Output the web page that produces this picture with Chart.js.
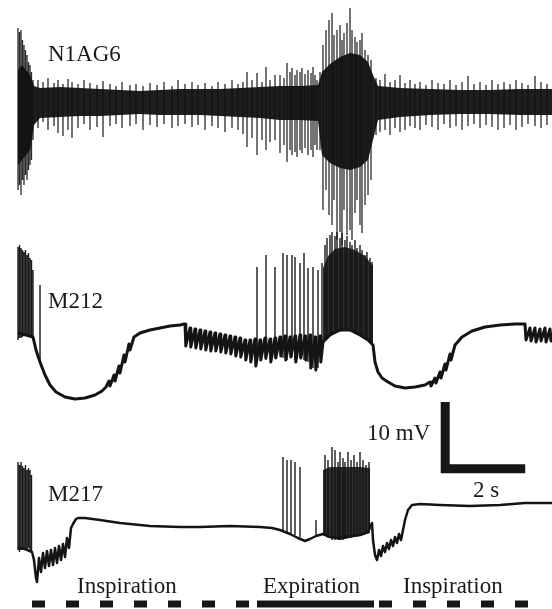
<!DOCTYPE html>
<html><head><meta charset="utf-8">
<script src="https://cdn.jsdelivr.net/npm/chart.js@4.4.1/dist/chart.umd.min.js"></script>
<style>html,body{margin:0;padding:0;background:#fff;}#wrap{position:relative;width:552px;height:609px;}</style>
</head><body><div id="wrap"><canvas id="c"></canvas></div>
<script>
// ---------------- DATA (time in s, potentials in mV; N1AG6 in relative units) ----------------
const traceNames = ['N1AG6', 'M212', 'M217'];

// N1AG6 nerve recording: envelope of the dense activity band
const n1Time  = [0, 0.1, 0.3, 0.4, 0.55, 1.05, 1.55, 2.05, 2.55, 3.05, 3.55, 4.05, 4.55, 5.05, 5.55, 6.05, 6.55, 7.05, 7.5, 7.6, 7.8, 8.05, 8.3, 8.55, 8.75, 8.875, 9.0, 9.55, 10.3, 11.05, 11.8, 12.55, 13.35];
const n1Upper = [4.8, 5.55, 4.05, 2.4, 2.1, 2.25, 2.1, 1.95, 1.8, 1.65, 1.8, 1.95, 1.95, 1.95, 2.1, 2.25, 2.4, 2.4, 2.55, 4.5, 5.7, 6.75, 7.35, 7.05, 6.0, 4.05, 2.4, 2.1, 1.95, 1.8, 1.8, 1.95, 1.95];
const n1Lower = [-9.45, -8.7, -7.2, -3.45, -2.4, -2.25, -2.1, -2.1, -1.95, -1.8, -1.95, -1.95, -1.95, -2.1, -2.25, -2.4, -2.7, -2.7, -2.85, -7.95, -9.15, -9.9, -10.2, -9.75, -8.7, -5.7, -2.7, -2.25, -1.95, -1.8, -1.8, -1.95, -1.95];
// N1AG6 individual spikes
const n1SpikeT  = [0, 0.0375, 0.075, 0.1125, 0.15, 0.1875, 0.225, 0.2625, 0.3, 0.3375, 0.375,
  0.5, 0.625, 0.75, 0.9, 1.0, 1.125, 1.25, 1.35, 1.5, 1.65, 1.8, 1.975, 2.125, 2.3, 2.45, 2.6, 2.8, 2.95, 3.125, 3.3, 3.475, 3.65, 3.85, 4.0, 4.175, 4.35, 4.5, 4.675, 4.85, 5.0, 5.175, 5.35, 5.5, 5.625,
  5.725, 5.85, 5.975, 6.1, 6.2, 6.3, 6.425, 6.55, 6.65, 6.725, 6.8, 6.85, 6.925, 6.975, 7.05, 7.1, 7.175, 7.25, 7.325, 7.375, 7.425, 7.475, 7.55,
  7.625, 7.7, 7.775, 7.85, 7.9, 7.975, 8.05, 8.1, 8.15, 8.225, 8.3, 8.35, 8.425, 8.475, 8.55, 8.6, 8.675, 8.75, 8.825,
  8.95, 9.05, 9.175, 9.3, 9.425, 9.55, 9.675, 9.8, 9.925, 10.05, 10.2, 10.35, 10.5, 10.65, 10.8, 10.95, 11.1, 11.25, 11.4, 11.55, 11.7, 11.85, 12.0, 12.15, 12.3, 12.45, 12.6, 12.75, 12.925, 13.075, 13.225];
const n1SpikeHi = [11.1, 10.5, 10.8, 9.3, 8.55, 7.8, 7.05, 6.0, 5.55, 4.5, 3.3,
  3.3, 3.0, 3.6, 2.85, 3.3, 2.7, 3.45, 3.0, 2.7, 3.3, 2.85, 2.55, 3.15, 2.7, 2.4, 3.0, 2.55, 2.7, 2.4, 2.85, 2.55, 3.0, 2.4, 3.3, 2.7, 3.0, 2.55, 2.85, 2.4, 3.0, 2.7, 3.3, 2.7, 3.0,
  4.5, 3.3, 4.35, 3.0, 5.25, 3.3, 4.05, 4.05, 3.6, 5.85, 4.5, 5.1, 4.05, 4.8, 4.5, 5.1, 4.2, 4.8, 4.35, 5.25, 4.05, 3.3, 4.5,
  8.55, 10.8, 12.3, 13.35, 10.05, 10.8, 11.55, 9.3, 10.35, 11.85, 14.1, 10.8, 9.75, 9.0, 9.3, 10.35, 7.8, 7.05, 6.3,
  3.6, 3.3, 4.2, 3.0, 3.3, 4.05, 2.85, 3.3, 2.7, 3.0, 2.55, 3.3, 2.85, 2.7, 3.3, 2.55, 3.0, 3.9, 2.7, 3.0, 2.55, 3.3, 2.7, 3.0, 2.7, 3.3, 2.85, 2.55, 3.9, 3.0, 2.7];
const n1SpikeLo = [-13.2, -12.45, -13.95, -11.7, -12.45, -10.95, -11.7, -10.2, -9.45, -8.7, -5.7,
  -3.9, -3.0, -4.2, -3.6, -4.65, -5.1, -4.2, -5.4, -3.9, -3.3, -4.2, -3.75, -5.25, -3.6, -3.3, -3.9, -3.6, -3.3, -4.2, -3.45, -3.75, -3.3, -3.9, -3.6, -3.3, -3.75, -3.45, -4.2, -3.6, -3.9, -4.5, -3.9, -4.2, -4.8,
  -6.75, -5.4, -7.95, -5.7, -7.2, -6.0, -5.7, -7.65, -6.45, -9.0, -7.2, -7.95, -7.5, -8.25, -7.2, -7.65, -6.9, -7.95, -7.2, -8.25, -6.45, -7.2, -7.2,
  -16.2, -13.2, -16.95, -18.45, -14.7, -20.7, -19.5, -21.45, -16.2, -19.95, -19.2, -20.7, -16.65, -14.7, -18.45, -19.65, -15.45, -13.95, -11.7,
  -4.95, -4.5, -4.2, -4.95, -3.9, -4.5, -4.2, -3.6, -3.9, -4.2, -3.45, -3.75, -4.2, -3.3, -3.9, -3.6, -4.2, -3.6, -3.3, -3.9, -3.45, -3.75, -4.2, -3.9, -3.45, -4.2, -3.75, -3.3, -3.6, -3.9, -3.45];

// M212 membrane potential (mV)
const m212Time = [0, 0.2, 0.375, 0.45, 0.55, 0.675, 0.8, 0.95, 1.175, 1.425, 1.675, 1.925, 2.1, 2.2,
  2.275, 2.3, 2.4, 2.425, 2.525, 2.55, 2.65, 2.675, 2.775, 2.8, 2.9, 3.05, 3.3, 3.55, 3.8, 4.05, 4.15,
  4.175, 4.195, 4.3, 4.32, 4.425, 4.445, 4.55, 4.57, 4.675, 4.695, 4.8, 4.82, 4.925, 4.945, 5.05, 5.07, 5.175, 5.195, 5.3, 5.32, 5.425, 5.445,
  5.55, 5.57, 5.675, 5.695, 5.8, 5.82, 5.925, 5.945, 6.05, 6.07, 6.175, 6.195, 6.3, 6.32, 6.425, 6.445, 6.55, 6.57, 6.675, 6.695,
  6.8, 6.82, 6.925, 6.945, 7.05, 7.07, 7.175, 7.195, 7.3, 7.32, 7.425, 7.445, 7.55, 7.57,
  7.625, 7.8, 8.05, 8.3, 8.55, 8.75, 8.875,
  8.925, 9.0, 9.1, 9.25, 9.425, 9.675, 9.925, 10.175, 10.3, 10.325, 10.425, 10.45, 10.55, 10.575, 10.675, 10.7, 10.8, 10.825,
  10.925, 11.1, 11.35, 11.675, 12.05, 12.425, 12.65, 12.675, 12.7, 12.8, 12.825, 12.925, 12.95, 13.05, 13.075, 13.175, 13.2, 13.3, 13.325, 13.35];
const m212Vm = [-56.2, -56.5, -56.8, -58.75, -60.55, -62.5, -64.0, -65.05, -65.8, -66.1, -65.95, -65.5, -64.9, -64.3,
  -63.4, -64.15, -62.5, -63.4, -61.15, -62.2, -59.5, -60.55, -57.85, -58.75, -56.8, -56.2, -55.75, -55.45, -55.15, -55.0, -54.85,
  -54.85, -58.15, -55.45, -58.3, -55.6, -58.45, -55.75, -58.6, -55.9, -58.75, -56.05, -58.9, -56.2, -58.9, -56.35, -59.05, -56.5, -59.2, -56.65, -59.35, -56.8, -59.65,
  -56.95, -59.8, -57.25, -60.25, -57.25, -60.55, -57.1, -61.15, -57.25, -60.25, -56.95, -59.95, -57.1, -60.55, -56.95, -59.95, -56.8, -59.65, -56.65, -60.25,
  -56.8, -59.8, -56.65, -60.55, -56.5, -59.95, -56.65, -60.25, -56.5, -61.45, -56.8, -61.75, -56.65, -60.55,
  -57.55, -56.5, -55.75, -55.75, -56.5, -57.25, -58.0,
  -60.55, -62.05, -62.95, -63.55, -64.15, -64.45, -64.3, -64.0, -63.55, -64.15, -62.95, -63.7, -62.05, -62.95, -60.85, -61.75, -59.35, -60.25,
  -58.0, -56.8, -55.9, -55.3, -55.0, -54.85, -54.85, -54.85, -57.25, -55.45, -57.4, -55.45, -57.55, -55.6, -57.4, -55.45, -57.55, -55.6, -57.4, -56.2];
// M212 burst envelope
const m212BurstT  = [7.625, 7.75, 7.925, 8.175, 8.425, 8.675, 8.875];
const m212BurstHi = [-46.45, -44.65, -43.6, -43.3, -43.75, -44.65, -46.15];
const m212BurstLo = [-57.55, -56.8, -56.2, -55.75, -56.05, -56.95, -58.0];
// M212 action potentials
const m212SpikeT  = [0, 0.0375, 0.075, 0.1125, 0.15, 0.1875, 0.225, 0.2625, 0.3, 0.3375, 0.375, 0.55,
  5.975, 6.2, 6.425, 6.625, 6.725, 6.85, 6.925, 7.05, 7.15, 7.25, 7.375, 7.5, 7.6,
  7.675, 7.725, 7.8, 7.85, 7.925, 7.975, 8.05, 8.1, 8.175, 8.225, 8.3, 8.35, 8.425, 8.475, 8.55, 8.6, 8.675, 8.725, 8.8, 8.85];
const m212SpikeHi = [-43.3, -43.0, -43.45, -43.75, -44.05, -43.75, -44.5, -44.2, -44.95, -45.25, -46.75, -49.0,
  -46.3, -44.5, -46.3, -44.2, -44.5, -44.5, -44.8, -45.7, -44.2, -46.45, -46.3, -46.75, -45.7,
  -43.0, -41.95, -41.5, -41.05, -41.65, -41.05, -41.95, -41.2, -42.25, -41.65, -42.55, -43.0, -42.25, -43.45, -43.0, -43.75, -44.5, -44.05, -44.95, -45.55];
const m212SpikeLo = [-57.25, -56.95, -56.95, -56.8, -56.65, -56.65, -56.65, -56.65, -56.8, -56.95, -57.25, -60.55,
  -60.55, -60.25, -59.95, -59.95, -60.25, -59.8, -60.25, -59.95, -60.25, -60.55, -61.45, -61.45, -58.75,
  -57.25, -56.95, -56.65, -56.5, -56.2, -56.05, -55.9, -55.75, -55.75, -55.75, -55.9, -56.05, -56.2, -56.35, -56.5, -56.8, -56.95, -57.25, -57.55, -57.85];

// M217 membrane potential (mV)
const m217Time = [0, 0.175, 0.35, 0.4, 0.45, 0.475, 0.525, 0.575, 0.625, 0.675, 0.725, 0.775, 0.825, 0.875, 0.925, 0.975, 1.025, 1.075, 1.125, 1.175, 1.225, 1.275, 1.325, 1.375, 1.45, 1.5,
  1.675, 2.05, 2.55, 3.3, 4.05, 4.55, 5.3, 6.05, 6.35, 6.55, 6.8, 7.0, 7.175, 7.3, 7.45, 7.625, 7.8, 8.05, 8.3, 8.55, 8.75, 8.85,
  8.875, 8.925, 8.975, 9.025, 9.075, 9.125, 9.175, 9.225, 9.275, 9.325, 9.375, 9.425, 9.475, 9.525, 9.575, 9.625, 9.675, 9.75, 9.85,
  10.05, 10.55, 11.3, 12.05, 12.675, 13.35];
const m217Vm = [-63.15, -63.3, -63.75, -64.95, -67.65, -68.25, -64.65, -66.75, -63.9, -66.15, -63.6, -65.85, -63.45, -65.7, -63.15, -65.4, -62.85, -64.95, -62.55, -64.5, -61.65, -63.15, -60.15, -59.55, -58.8, -58.65,
  -58.65, -58.95, -59.4, -59.85, -60.0, -60.0, -59.85, -60.0, -60.15, -60.45, -61.05, -61.65, -62.1, -61.8, -61.35, -61.05, -61.5, -61.65, -61.35, -61.2, -60.75, -59.4,
  -61.95, -64.2, -64.95, -63.45, -64.35, -62.85, -63.75, -62.4, -63.3, -61.95, -62.85, -61.5, -62.4, -61.05, -61.95, -60.45, -58.95, -57.45, -56.7,
  -56.55, -56.7, -56.85, -56.7, -56.4, -56.4];
// M217 burst envelope
const m217BurstT  = [7.625, 7.8, 8.05, 8.3, 8.55, 8.8];
const m217BurstHi = [-51.45, -51.0, -51.0, -51.0, -51.0, -51.15];
const m217BurstLo = [-61.2, -61.65, -61.95, -61.65, -61.35, -60.9];
// M217 action potentials
const m217SpikeT  = [0, 0.0375, 0.075, 0.1125, 0.15, 0.1875, 0.225, 0.2625, 0.3, 0.3375,
  6.625, 6.725, 6.825, 6.925, 7.05, 7.45,
  7.675, 7.75, 7.85, 7.925, 8.0, 8.05, 8.125, 8.175, 8.25, 8.325, 8.4, 8.475, 8.55, 8.625, 8.7, 8.775];
const m217SpikeHi = [-50.25, -50.7, -50.25, -50.85, -51.15, -50.7, -51.45, -51.15, -51.45, -52.2,
  -49.5, -49.95, -49.95, -50.25, -51.0, -58.95,
  -49.2, -49.95, -48.0, -48.45, -50.25, -48.75, -49.65, -50.25, -48.75, -49.95, -49.2, -50.25, -48.75, -49.95, -50.7, -50.25];
const m217SpikeLo = [-63.45, -63.75, -63.45, -63.15, -63.45, -63.15, -63.45, -63.15, -63.45, -63.75,
  -60.6, -60.75, -61.05, -61.2, -61.5, -61.35,
  -61.35, -61.65, -61.95, -61.95, -61.95, -61.95, -61.95, -61.8, -61.65, -61.65, -61.5, -61.35, -61.35, -61.2, -61.05, -60.45];

// Respiratory phases (s)
const phaseName  = ['Inspiration', 'Expiration', 'Inspiration'];
const phaseStart = [0.35, 5.975, 9.025];
const phaseEnd   = [5.775, 8.9, 12.75];

// Scale bar sizes
const scaleBarMV = 10;
const scaleBarS = 2;

// ---------------- LAYOUT / STYLE ----------------
const INK = '#141414';
const layout = {
  scaleBar: { t: 10.68, v: -51.25 },      // corner of the L (on M217 axis)
  phaseLevel: -71.55,                      // M217 axis
  traceLabels: [[48, 61], [48, 308], [48, 501]],
  phaseLabels: [[77, 593], [263, 593], [403, 593]],
  mvLabel: [367, 440], sLabel: [473, 497]
};

function pts(t, v) { return t.map((x, i) => ({ x: x, y: v[i] })); }
function spikePts(t, hi, lo) {
  const out = [];
  t.forEach((x, i) => { out.push({ x: x, y: lo[i] }, { x: x, y: hi[i] }, { x: x, y: null }); });
  return out;
}
function band(t, hi, lo, axis, color) {
  return [
    { data: pts(t, hi), yAxisID: axis, borderWidth: 0, borderColor: 'rgba(0,0,0,0)', backgroundColor: color, fill: '+1' },
    { data: pts(t, lo), yAxisID: axis, borderWidth: 0, borderColor: 'rgba(0,0,0,0)', backgroundColor: 'rgba(0,0,0,0)', fill: false }
  ];
}
function spikes(t, hi, lo, axis, color, w) {
  return { data: spikePts(t, hi, lo), yAxisID: axis, borderColor: color, borderWidth: w, spanGaps: false, fill: false, borderCapStyle: 'butt' };
}

const datasets = [];
datasets.push(...band(n1Time, n1Upper, n1Lower, 'yA', 'rgba(18,18,18,0.95)'));
datasets.push(spikes(n1SpikeT, n1SpikeHi, n1SpikeLo, 'yA', 'rgba(20,20,20,0.9)', 1.3));
datasets.push({ data: pts(m212Time, m212Vm), yAxisID: 'yB', borderColor: INK, borderWidth: 3, borderJoinStyle: 'round', fill: false });
datasets.push(...band(m212BurstT, m212BurstHi, m212BurstLo, 'yB', 'rgba(18,18,18,0.88)'));
datasets.push(spikes(m212SpikeT, m212SpikeHi, m212SpikeLo, 'yB', 'rgba(15,15,15,0.95)', 1.4));
datasets.push({ data: pts(m217Time, m217Vm), yAxisID: 'yC', borderColor: INK, borderWidth: 2.5, borderJoinStyle: 'round', fill: false });
datasets.push(...band(m217BurstT, m217BurstHi, m217BurstLo, 'yC', 'rgba(18,18,18,0.88)'));
datasets.push(spikes(m217SpikeT, m217SpikeHi, m217SpikeLo, 'yC', 'rgba(15,15,15,0.95)', 1.4));
// scale bar
const sb = layout.scaleBar;
datasets.push({ data: [{ x: sb.t, y: sb.v + scaleBarMV }, { x: sb.t, y: sb.v }, { x: sb.t + scaleBarS, y: sb.v }],
  yAxisID: 'yC', borderColor: '#161616', borderWidth: 9, borderJoinStyle: 'miter', borderCapStyle: 'butt', fill: false });
// phase bars
phaseName.forEach((name, i) => {
  datasets.push({ data: [{ x: phaseStart[i], y: layout.phaseLevel }, { x: phaseEnd[i], y: layout.phaseLevel }],
    yAxisID: 'yC', borderColor: '#161616', borderWidth: 7, borderCapStyle: 'butt',
    borderDash: name === 'Inspiration' ? [13, 21] : [], fill: false });
});

const textPlugin = {
  id: 'texts',
  afterDraw(chart) {
    const ctx = chart.ctx;
    ctx.save();
    ctx.fillStyle = '#1a1a1a';
    ctx.font = '23px "Liberation Serif", "Times New Roman", serif';
    ctx.textBaseline = 'alphabetic';
    ctx.textAlign = 'left';
    traceNames.forEach((n, i) => ctx.fillText(n, layout.traceLabels[i][0], layout.traceLabels[i][1]));
    phaseName.forEach((n, i) => ctx.fillText(n, layout.phaseLabels[i][0], layout.phaseLabels[i][1]));
    ctx.fillText(scaleBarMV + ' mV', layout.mvLabel[0], layout.mvLabel[1]);
    ctx.fillText(scaleBarS + ' s', layout.sLabel[0], layout.sLabel[1]);
    ctx.restore();
  }
};

new Chart(document.getElementById('c'), {
  type: 'line',
  data: { datasets: datasets },
  options: {
    animation: false, responsive: true, maintainAspectRatio: false,
    layout: { padding: 0 },
    elements: { point: { radius: 0, hoverRadius: 0 }, line: { tension: 0 } },
    plugins: { legend: { display: false }, tooltip: { enabled: false } },
    events: [],
    scales: {
      x:  { type: 'linear', min: -0.45, max: 13.35, display: false },
      yA: { type: 'linear', min: -76.05, max: 15.3, display: false },
      yB: { type: 'linear', min: -97.6, max: -6.25, display: false },
      yC: { type: 'linear', min: -72.3, max: 19.05, display: false }
    }
  },
  plugins: [textPlugin]
});
</script></body></html>
